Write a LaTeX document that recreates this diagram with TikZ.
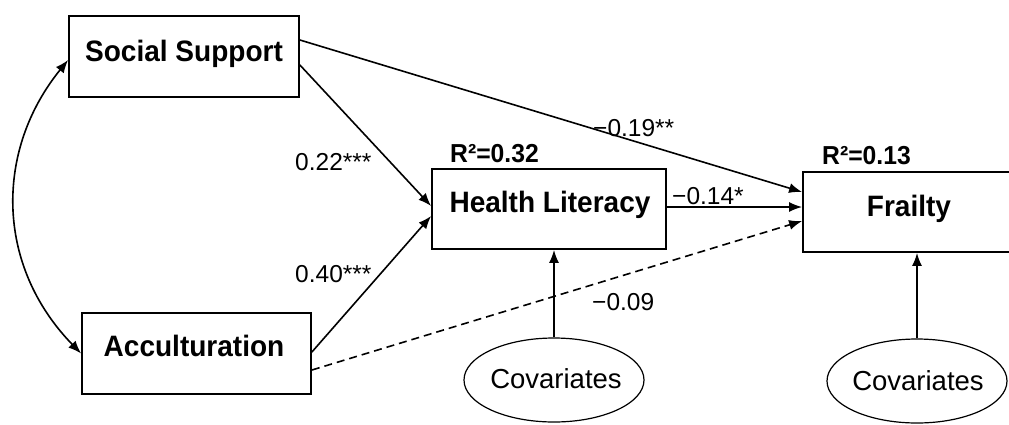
\documentclass[tikz,border=0pt]{standalone}
\usepackage{fontspec}
\setmainfont{Liberation Sans}
\newfontfamily\condsans[FakeStretch=0.95]{Liberation Sans}
\usetikzlibrary{arrows.meta,shapes.geometric}
\begin{document}
\begin{tikzpicture}[x=1pt,y=-1pt,
  box/.style={draw=black,line width=1.8pt,rectangle,inner sep=0pt},
  oval/.style={draw=black,line width=1.2pt,ellipse,inner sep=0pt,minimum width=180pt,minimum height=84pt},
  boxlabel/.style={font=\fontsize{29.5pt}{31pt}\condsans\bfseries,inner sep=0pt,anchor=base},
  rlabel/.style={font=\fontsize{26pt}{28pt}\condsans\bfseries,inner sep=0pt,anchor=base west},
  coef/.style={font=\fontsize{24.5pt}{26pt}\selectfont,inner sep=0pt,anchor=base west},
  covlabel/.style={font=\fontsize{27.5pt}{29pt}\selectfont,inner sep=0pt,anchor=base},
  arr/.style={line width=1.6pt,-{Latex[length=13pt,width=10pt]}},
  dasharr/.style={arr,dash pattern=on 8pt off 5pt},
  biarr/.style={line width=1.6pt,{Latex[length=13pt,width=10pt]}-{Latex[length=13pt,width=10pt]}}
]
\useasboundingbox (0,0) rectangle (1009,424);
\clip (0,0) rectangle (1009,424);

% boxes
\node[box,minimum width=230pt,minimum height=81pt] (ss) at (184,56.5) {};
\node[box,minimum width=229pt,minimum height=81pt] (acc) at (196.5,353.5) {};
\node[box,minimum width=234pt,minimum height=80pt] (hl) at (549,209) {};
\node[box,minimum width=212pt,minimum height=80pt] (fr) at (909,212) {};
\node[oval] (cov1) at (554,380) {};
\node[oval] (cov2) at (917,381) {};

% box labels
\node[boxlabel] (ssl) at (184,61) {Social Support};
\node[boxlabel] (accl) at (194,356) {Acculturation};
\node[boxlabel] (hll) at (550,212) {Health Literacy};
\node[boxlabel] (frl) at (909,216) {Frailty};
\node[covlabel] (cov1l) at (556,388) {Covariates};
\node[covlabel] (cov2l) at (918,390) {Covariates};

% R squared
\node[rlabel] (r1) at (450,162) {R²=0.32};
\node[rlabel] (r2) at (822,164) {R²=0.13};

% coefficients
\node[coef] (c1) at (295,170) {0.22***};
\node[coef] (c2) at (295,282) {0.40***};
\node[coef] (c3) at (593,136) {−0.19**};
\node[coef] (c4) at (672,204) {−0.14*};
\node[coef] (c5) at (592,310) {−0.09};

% connectors
\draw[biarr] ([yshift=-3.5pt]ss.west) .. controls (-5,150) and (-5,265) .. (acc.west);
\draw[arr] ([yshift=16.5pt]ss.east) -- ([yshift=20pt]fr.west);
\draw[arr] ([yshift=-8.5pt]ss.east) -- ([yshift=3pt]hl.west);
\draw[arr] ([yshift=1.5pt]acc.east) -- ([yshift=-7pt]hl.west);
\draw[arr] ([yshift=2pt]hl.east) -- ([yshift=5pt]fr.west);
\draw[dasharr] ([yshift=-16.5pt]acc.east) -- ([yshift=-9pt]fr.west);
\draw[arr] (cov1.north) -- (cov1.north |- hl.south);
\draw[arr] (cov2.north) -- (cov2.north |- fr.south);
\end{tikzpicture}
\end{document}
